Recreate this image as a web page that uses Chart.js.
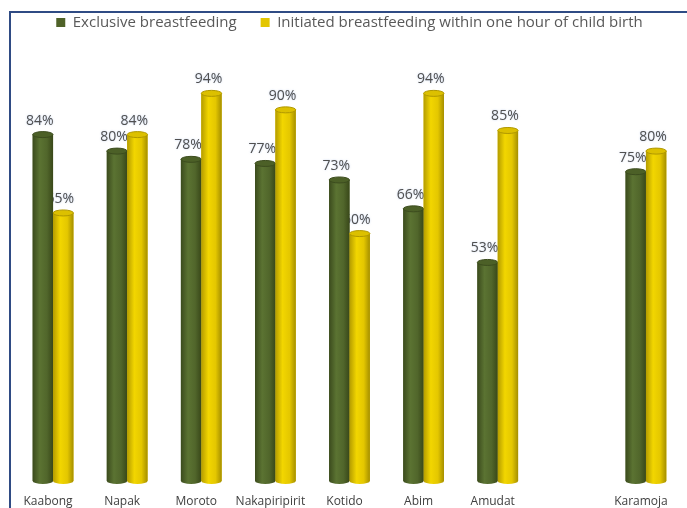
<!DOCTYPE html>
<html>
<head>
<meta charset="utf-8">
<script src="https://cdn.jsdelivr.net/npm/chart.js@4/dist/chart.umd.min.js"></script>
<style>
  html, body { margin: 0; padding: 0; background: #ffffff; }
  #wrap { position: relative; width: 687px; height: 508px; }
</style>
</head>
<body>
<div id="wrap"><canvas id="c" width="687" height="508"></canvas></div>
<script>
// Districts of Karamoja (blank slot separates the regional total)
const categories = ['Kaabong', 'Napak', 'Moroto', 'Nakapiripirit', 'Kotido', 'Abim', 'Amudat', '', 'Karamoja'];
const exclusiveBF = [84, 80, 78, 77, 73, 66, 53, null, 75];
const initiatedBF = [65, 84, 94, 90, 60, 94, 85, null, 80];
const seriesNames = ['Exclusive breastfeeding', 'Initiated breastfeeding within one hour of child birth'];

const palettes = [
  { base: '#4f6228', stops: ['#3b4b1d', '#5b7332', '#51662b', '#394819'], top: '#4c6027', rim: '#3c4c1e' },
  { base: '#e3c600', stops: ['#b49c00', '#f2d600', '#e4c700', '#a58f00'], top: '#dcc000', rim: '#b09800' }
];

// Frame lines along the top and left edges
const framePlugin = {
  id: 'frame',
  beforeDraw(chart) {
    const ctx = chart.ctx;
    ctx.save();
    ctx.strokeStyle = '#2f4b84';
    ctx.lineWidth = 2;
    ctx.beginPath();
    ctx.moveTo(10, 508);
    ctx.lineTo(10, 12);
    ctx.lineTo(687, 12);
    ctx.stroke();
    ctx.restore();
  }
};

// Keep the legend band compact
const legendBand = {
  id: 'legendBand',
  beforeInit(chart) {
    const lg = chart.legend;
    if (!lg) return;
    const fit = lg.fit;
    lg.fit = function () {
      fit.call(this);
      this.height = 57;
    };
  }
};

// Value labels first, then cylinders drawn over each bar element
const cylinderPlugin = {
  id: 'cylinders',
  afterDatasetsDraw(chart) {
    const ctx = chart.ctx;
    const ry = 3;
    // labels
    chart.data.datasets.forEach((ds, di) => {
      const meta = chart.getDatasetMeta(di);
      meta.data.forEach((el, i) => {
        const v = ds.data[i];
        if (v === null || v === undefined) return;
        const p = el.getProps(['x', 'y'], true);
        ctx.save();
        ctx.font = '14px "Open Sans", sans-serif';
        ctx.fillStyle = '#505050';
        ctx.textAlign = 'center';
        ctx.textBaseline = 'alphabetic';
        ctx.shadowColor = 'rgba(140,170,220,0.55)';
        ctx.shadowBlur = 2;
        ctx.fillText(v + '%', p.x - 3, p.y - ry - 7);
        ctx.restore();
      });
    });
    // cylinders
    chart.data.datasets.forEach((ds, di) => {
      const meta = chart.getDatasetMeta(di);
      const pal = palettes[di];
      meta.data.forEach((el, i) => {
        const v = ds.data[i];
        if (v === null || v === undefined) return;
        const p = el.getProps(['x', 'y', 'base', 'width'], true);
        const l = p.x - p.width / 2, r = p.x + p.width / 2, w = p.width;
        const g = ctx.createLinearGradient(l, 0, r, 0);
        g.addColorStop(0, pal.stops[0]);
        g.addColorStop(0.35, pal.stops[1]);
        g.addColorStop(0.7, pal.stops[2]);
        g.addColorStop(1, pal.stops[3]);
        ctx.save();
        ctx.fillStyle = g;
        ctx.beginPath();
        ctx.moveTo(l, p.y);
        ctx.lineTo(l, p.base);
        ctx.ellipse(p.x, p.base, w / 2, ry, 0, Math.PI, 0, true);
        ctx.lineTo(r, p.y);
        ctx.closePath();
        ctx.fill();
        ctx.beginPath();
        ctx.ellipse(p.x, p.y, w / 2, ry, 0, 0, Math.PI * 2);
        ctx.fillStyle = pal.top;
        ctx.fill();
        ctx.lineWidth = 1;
        ctx.strokeStyle = pal.rim;
        ctx.stroke();
        ctx.restore();
      });
    });
  }
};

new Chart(document.getElementById('c'), {
  type: 'bar',
  data: {
    labels: categories,
    datasets: [
      { label: seriesNames[0], data: exclusiveBF, backgroundColor: palettes[0].base, borderWidth: 0 },
      { label: seriesNames[1], data: initiatedBF, backgroundColor: palettes[1].base, borderWidth: 0 }
    ]
  },
  options: {
    responsive: false,
    animation: false,
    devicePixelRatio: 1,
    datasets: { bar: { categoryPercentage: 0.55, barPercentage: 1.0 } },
    layout: { padding: { top: -9, left: 16, right: 4, bottom: 0 } },
    plugins: {
      tooltip: { enabled: false },
      legend: {
        position: 'top',
        labels: {
          boxWidth: 9,
          boxHeight: 9,
          padding: 24,
          color: '#595959',
          font: { family: '"Open Sans", sans-serif', size: 15 }
        }
      }
    },
    scales: {
      x: {
        grid: { display: false },
        border: { display: false },
        ticks: {
          color: '#404040',
          font: { family: '"Open Sans", sans-serif', size: 12 },
          padding: 5,
          labelOffset: -5,
          maxRotation: 0,
          autoSkip: false
        },
        afterFit(s) { s.height = 27; }
      },
      y: {
        display: false,
        min: 0,
        max: 105
      }
    }
  },
  plugins: [framePlugin, legendBand, cylinderPlugin]
});
</script>
</body>
</html>
